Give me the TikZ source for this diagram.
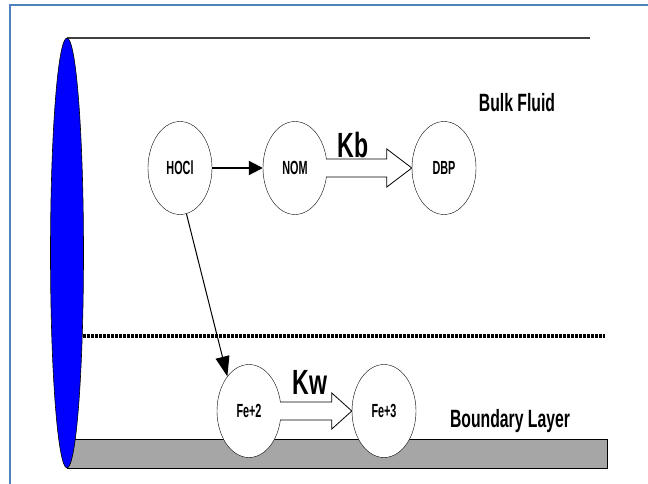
\documentclass[tikz,border=0pt]{standalone}
\usepackage{graphicx}
\usepackage{fontspec}
\setmainfont{Liberation Sans}
\usepackage{tikz}
\usetikzlibrary{arrows.meta,calc,shapes.geometric}
\definecolor{FrameBlue}{RGB}{79,129,189}
\definecolor{WallGray}{RGB}{166,166,166}
\newcommand{\narrowtext}[2]{\scalebox{#1}[1]{\bfseries #2}}

\begin{document}
\begin{tikzpicture}[x=1pt,y=-1pt,
  species/.style={ellipse,draw,fill=white,minimum width=64pt,minimum height=93pt,inner sep=0pt,font=\fontsize{19}{19}\selectfont},
  hollow/.style={draw,fill=white,line width=0.8pt}]
\useasboundingbox (0,0) rectangle (648,484);
\draw[FrameBlue,line width=2pt] (10,484) -- (10,5) -- (648,5);
% pipe wall
\draw[fill=WallGray,line width=0.8pt] (67,439) rectangle (607,468);
\draw[black!75,line width=1.5pt] (67,38) -- (590,38);
\draw[line width=3.5pt,dash pattern=on 3pt off 1pt] (83,336) -- (605,336);
\draw[fill=blue,line width=0.6pt] (67,253) ellipse (16.5 and 215);

\node at (517,103) {\fontsize{25}{25}\selectfont\narrowtext{0.63}{Bulk Fluid}};
\node at (510,421) {\fontsize{25}{25}\selectfont\narrowtext{0.63}{Boundary Layer}};

\node[species] (hocl) at (180,168) {\narrowtext{0.57}{HOCl}};
\node[species] (nom) at (295,168) {\narrowtext{0.57}{NOM}};
\node[species] (dbp) at (444,168) {\narrowtext{0.57}{DBP}};
\node[species] (fe2) at (249,411) {\narrowtext{0.57}{Fe+2}};
\node[species] (fe3) at (384,411) {\narrowtext{0.57}{Fe+3}};

\draw[line width=2pt,-{Triangle[length=14pt,width=14pt]}] (hocl) -- (nom);
\draw[line width=1pt,-{Triangle[length=20pt,width=14pt]}] (hocl.-82) -- (fe2.122);

% rate arrows
\draw[hollow] ($(nom.east)+(-1,-9)$) -- ($(dbp.west)+(-25,-9)$) -- ($(dbp.west)+(-25,-19)$)
  -- (dbp.west) -- ($(dbp.west)+(-25,19)$) -- ($(dbp.west)+(-25,9)$) -- ($(nom.east)+(-1,9)$);
\node at (353,145) {\fontsize{35}{35}\selectfont\narrowtext{0.66}{Kb}};
\draw[hollow] ($(fe2.east)+(-1,-9)$) -- ($(fe3.west)+(-20,-9)$) -- ($(fe3.west)+(-20,-18)$)
  -- (fe3.west) -- ($(fe3.west)+(-20,18)$) -- ($(fe3.west)+(-20,9)$) -- ($(fe2.east)+(-1,9)$);
\node at (310,382) {\fontsize{35}{35}\selectfont\narrowtext{0.66}{Kw}};
\end{tikzpicture}
\end{document}
